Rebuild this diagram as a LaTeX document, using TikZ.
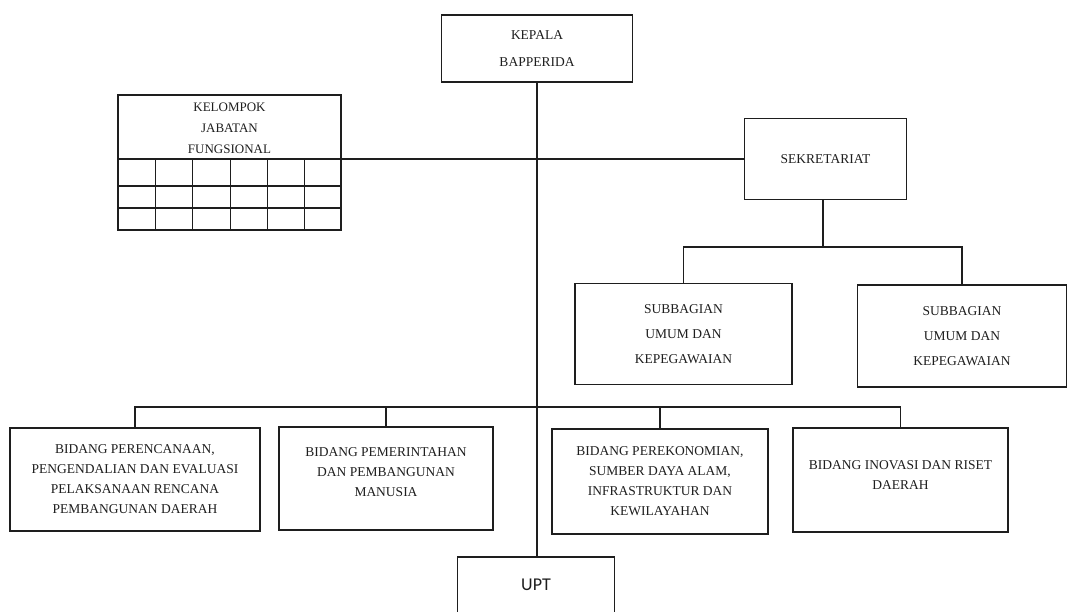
\documentclass[tikz,border=0pt]{standalone}
\usepackage{fontspec}
\setmainfont{Liberation Serif}
\newfontfamily\upfont{Carlito}
\definecolor{ink}{RGB}{30,30,30}
\begin{document}
\begin{tikzpicture}[x=1pt,y=-1pt,
  box/.style={draw=ink, line width=1.3pt, rectangle, align=center, inner sep=0pt,
    text=ink, font=\fontsize{13.5}{20}\selectfont},
  txt/.style={align=center, inner sep=0pt, text=ink, font=\fontsize{13.5}{20}\selectfont},
  conn/.style={draw=ink, line width=1.1pt},
  gridline/.style={draw=ink, line width=0.9pt},
  thickgrid/.style={draw=ink, line width=1.6pt}]
\useasboundingbox (0,0) rectangle (1068,612);
% nodes
\node[box, minimum width=191pt, minimum height=67pt, font=\fontsize{13.5}{27}\selectfont] (kep) at (537,48.5) {KEPALA\\BAPPERIDA};
\node[box, minimum width=223pt, minimum height=64pt,
  label={[txt, font=\fontsize{13}{21}\selectfont, yshift=-1pt]center:KELOMPOK\\JABATAN\\FUNGSIONAL}] (kjf) at (229.5,127) {};
\node[box, minimum width=223pt, minimum height=71pt] (kjfg) at (229.5,194.5) {};
\node[box, minimum width=162pt, minimum height=81pt] (sek) at (825.5,159) {SEKRETARIAT};
\node[box, minimum width=217pt, minimum height=101pt, font=\fontsize{13.5}{25}\selectfont] (sub1) at (683.5,334) {SUBBAGIAN\\UMUM DAN\\KEPEGAWAIAN};
\node[box, minimum width=209pt, minimum height=102pt, font=\fontsize{13.5}{25}\selectfont] (sub2) at (962,336) {SUBBAGIAN\\UMUM DAN\\KEPEGAWAIAN};
\node[box, minimum width=250pt, minimum height=103pt] (b1) at (135,479.5) {BIDANG PERENCANAAN,\\PENGENDALIAN DAN EVALUASI\\PELAKSANAAN RENCANA\\PEMBANGUNAN DAERAH};
\node[box, minimum width=214pt, minimum height=103pt,
  label={[txt, yshift=6pt]center:BIDANG PEMERINTAHAN\\DAN PEMBANGUNAN\\MANUSIA}] (b2) at (386,478.5) {};
\node[box, minimum width=216pt, minimum height=105pt] (b3) at (660,481.5) {BIDANG PEREKONOMIAN,\\SUMBER DAYA ALAM,\\INFRASTRUKTUR DAN\\KEWILAYAHAN};
\node[box, minimum width=215pt, minimum height=104pt,
  label={[txt, yshift=5pt]center:BIDANG INOVASI DAN RISET\\DAERAH}] (b4) at (900.5,480) {};
\node[box, minimum width=157pt, minimum height=66pt, text height=12pt, font=\upfont\fontsize{18}{20}\selectfont] (upt) at (536,590) {\raisebox{6pt}{UPT}};
% grid inside KJF
\foreach \gx in {155,192,230,267,304} \draw[gridline] (\gx,159) -- (\gx,230);
\draw[thickgrid] (118,186) -- (341,186);
\draw[thickgrid] (118,208) -- (341,208);
% connectors
\draw[conn] (kep.south) -- (kep.south |- upt.north);
\draw[conn] (sek.west) -- (sek.west -| kjf.east);
\coordinate (sbus) at (823,247);
\draw[conn] (sek.south -| sbus) -- (sbus);
\draw[conn] (sub1.north) |- (sbus) -| (sub2.north);
\coordinate (bbus) at (536,407);
\draw[conn] (b1.north) |- (bbus) -| (b4.north);
\draw[conn] (b2.north) -- (b2.north |- bbus);
\draw[conn] (b3.north) -- (b3.north |- bbus);
\end{tikzpicture}
\end{document}
